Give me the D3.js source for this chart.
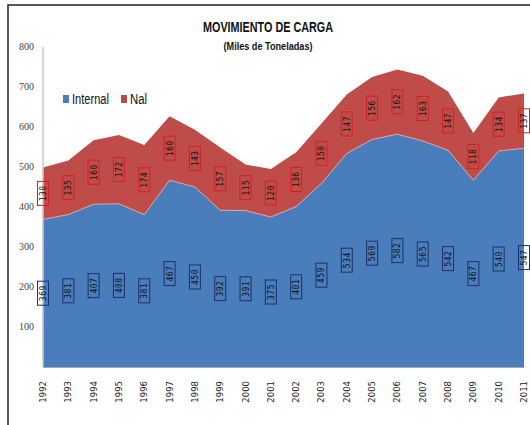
<!DOCTYPE html>
<html>
<head>
<meta charset="utf-8">
<script src="https://cdn.jsdelivr.net/npm/d3@7"></script>
<style>
  body { margin: 0; background: #fff; }
  svg { display: block; }
</style>
</head>
<body>
<div id="chart"></div>
<script>
var years = ['1992', '1993', '1994', '1995', '1996', '1997', '1998', '1999', '2000', '2001',
  '2002', '2003', '2004', '2005', '2006', '2007', '2008', '2009', '2010', '2011'];
var internal = [369, 381, 407, 408, 381, 467, 450, 392, 391, 375,
  401, 459, 534, 569, 582, 565, 542, 467, 540, 547];
var nal = [130, 135, 160, 172, 174, 160, 143, 157, 115, 120,
  136, 150, 147, 156, 162, 163, 147, 118, 134, 137];
var yTicks = [100, 200, 300, 400, 500, 600, 700, 800];
var seriesNames = ['Internal', 'Nal'];

var colors = { Internal: '#4a7dbb', Nal: '#bf4c49' };
var boxColors = { Internal: '#1d2f6e', Nal: '#d42020' };

var svg = d3.select('#chart').append('svg')
  .attr('width', 530)
  .attr('height', 425);

var x = d3.scalePoint().domain(years).range([43, 524]);
var y = d3.scaleLinear().domain([0, 800]).range([367, 47]);

var rows = years.map(function (yr, i) {
  return { year: yr, Internal: internal[i], Nal: nal[i] };
});
var stacked = d3.stack().keys(seriesNames)(rows);

var area = d3.area()
  .x(function (d) { return x(d.data.year); })
  .y0(function (d) { return y(d[0]); })
  .y1(function (d) { return y(d[1]); });

// outer frame
svg.append('path')
  .attr('d', 'M8,425 L8,5 L530,5')
  .style('fill', 'none')
  .style('stroke', '#222')
  .style('stroke-width', 1.5);

svg.selectAll('.area')
  .data(stacked)
  .enter()
  .append('path')
  .attr('class', 'area')
  .style('fill', function (d) { return colors[d.key]; })
  .attr('d', area);

// light seam between the two areas
svg.append('path')
  .datum(stacked[0])
  .style('fill', 'none')
  .style('stroke', '#e6b2ab')
  .style('stroke-width', 0.8)
  .attr('d', d3.line()
    .x(function (d) { return x(d.data.year); })
    .y(function (d) { return y(d[1]); }));

// axes lines
svg.append('line')
  .attr('x1', 43).attr('x2', 43)
  .attr('y1', y(800)).attr('y2', y(0))
  .style('stroke', '#c8c8c8').style('stroke-width', 1.5);
svg.append('line')
  .attr('x1', 43).attr('x2', 524)
  .attr('y1', y(0) + 0.5).attr('y2', y(0) + 0.5)
  .style('stroke', '#a8a8a8').style('stroke-width', 1.2);

svg.selectAll('.ytick')
  .data(yTicks)
  .enter()
  .append('text')
  .attr('class', 'ytick')
  .attr('x', 34)
  .attr('y', function (d) { return y(d) + 3; })
  .attr('text-anchor', 'end')
  .style('font-family', 'Liberation Serif, serif')
  .style('font-size', '10px')
  .style('fill', '#444')
  .text(function (d) { return d; });

svg.selectAll('.xtick')
  .data(years)
  .enter()
  .append('text')
  .attr('class', 'xtick')
  .attr('transform', function (d) {
    return 'translate(' + (x(d) + 3) + ',' + 381 + ') rotate(-90)';
  })
  .attr('text-anchor', 'end')
  .style('font-family', 'DejaVu Sans, sans-serif')
  .style('font-size', '8.5px')
  .style('fill', '#222')
  .text(function (d) { return d; });

// data labels, vertical in boxes
stacked.forEach(function (s) {
  var g = svg.selectAll('.lbl-' + s.key)
    .data(s)
    .enter()
    .append('g')
    .attr('transform', function (d) {
      return 'translate(' + x(d.data.year) + ',' + y((d[0] + d[1]) / 2) + ') rotate(-90)';
    });
  g.append('rect')
    .attr('x', -12).attr('y', -5.5)
    .attr('width', 24).attr('height', 11)
    .style('fill', 'none')
    .style('stroke', boxColors[s.key])
    .style('stroke-width', 1);
  g.append('text')
    .attr('text-anchor', 'middle')
    .attr('y', 3)
    .style('font-family', 'DejaVu Sans Mono, monospace')
    .style('font-size', '8px')
    .style('letter-spacing', '0.5px')
    .style('fill', '#111')
    .text(function (d) { return d.data[s.key]; });
});

svg.append('text')
  .attr('x', 268).attr('y', 32)
  .attr('text-anchor', 'middle')
  .attr('textLength', 130)
  .attr('lengthAdjust', 'spacingAndGlyphs')
  .style('font-family', 'Liberation Sans, Arial, sans-serif')
  .style('font-weight', 'bold')
  .style('font-size', '14px')
  .style('fill', '#111')
  .text('MOVIMIENTO DE CARGA');
svg.append('text')
  .attr('x', 268).attr('y', 50)
  .attr('text-anchor', 'middle')
  .attr('textLength', 89)
  .attr('lengthAdjust', 'spacingAndGlyphs')
  .style('font-family', 'Liberation Sans, Arial, sans-serif')
  .style('font-weight', 'bold')
  .style('font-size', '10px')
  .style('fill', '#111')
  .text('(Miles de Toneladas)');

// legend
var legendWidths = { Internal: 37, Nal: 17 };
var legend = svg.selectAll('.legend')
  .data(seriesNames)
  .enter()
  .append('g')
  .attr('class', 'legend')
  .attr('transform', function (d, i) {
    return 'translate(' + (63 + i * 58) + ',' + 95 + ')';
  });
legend.append('rect')
  .attr('width', 6).attr('height', 8)
  .style('fill', function (d) { return colors[d]; });
legend.append('text')
  .attr('x', 9).attr('y', 9)
  .attr('textLength', function (d) { return legendWidths[d]; })
  .attr('lengthAdjust', 'spacingAndGlyphs')
  .style('font-family', 'Liberation Sans, Arial, sans-serif')
  .style('font-size', '14px')
  .style('fill', '#111')
  .text(function (d) { return d; });
</script>
</body>
</html>
